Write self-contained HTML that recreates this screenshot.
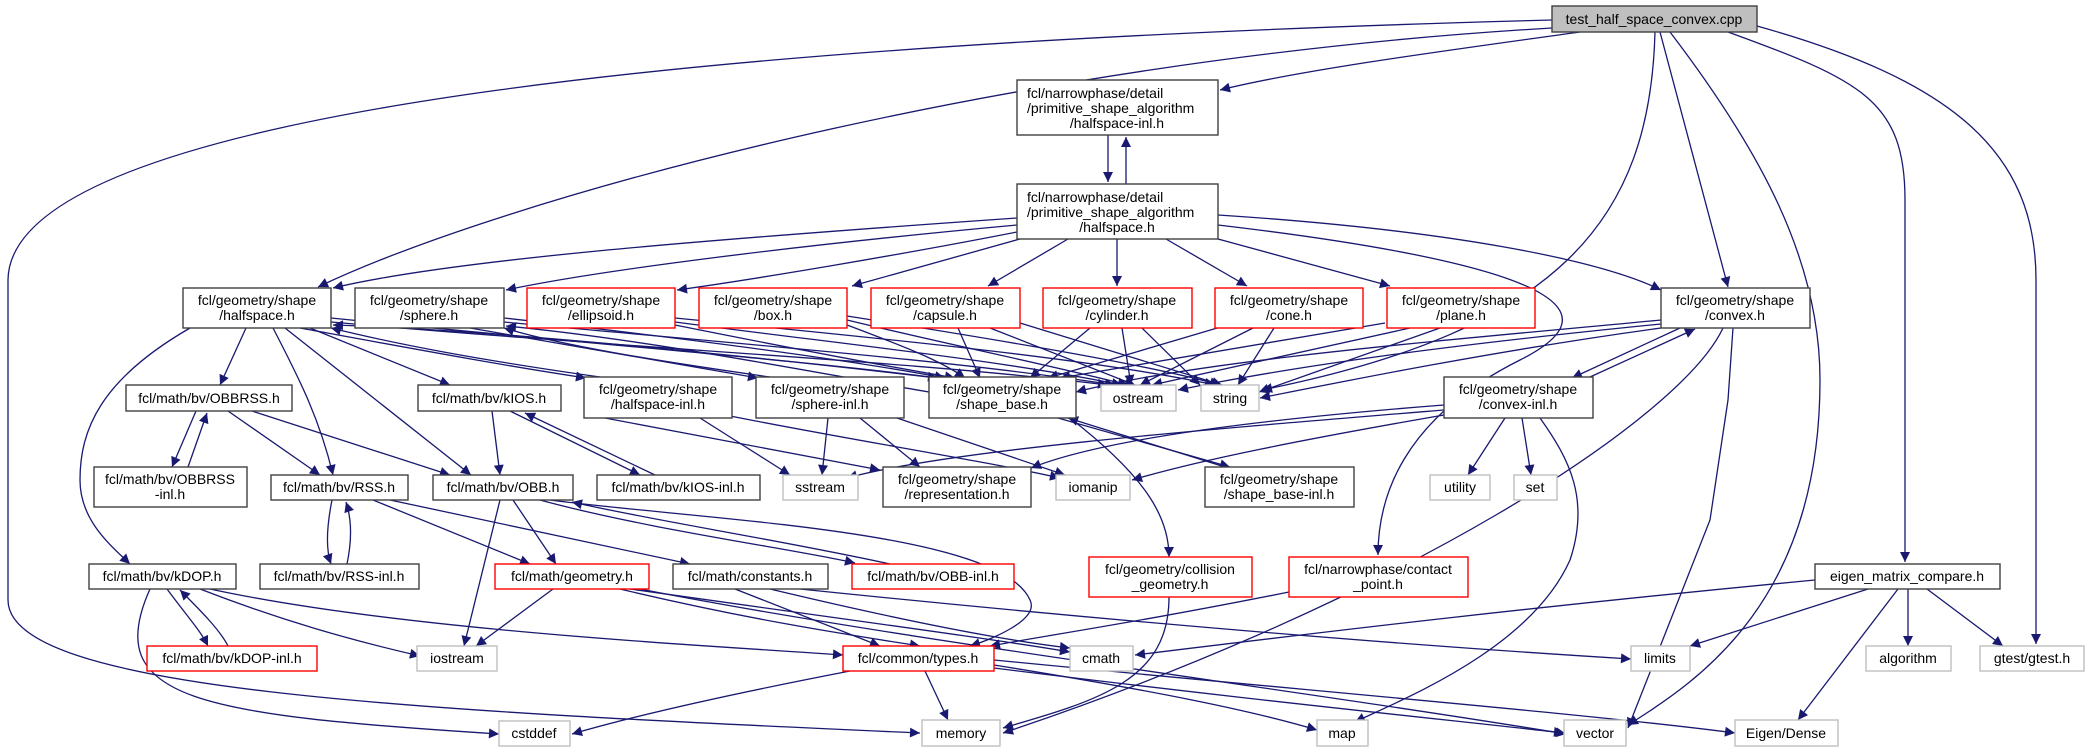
<!DOCTYPE html>
<html><head><meta charset="utf-8"><style>
html,body{margin:0;padding:0;background:#fff;}
svg{display:block;}
text{font-family:"Liberation Sans",Arial,sans-serif;font-size:14px;fill:#000;}
.n{fill:#fff;stroke:#404040;stroke-width:1.4;}
.r{fill:#fff;stroke:#ff0000;stroke-width:1.4;}
.g{fill:#fff;stroke:#bfbfbf;stroke-width:1.4;}
.e{fill:none;stroke:#191970;stroke-width:1.3;marker-end:url(#a);}
</style></head><body>
<svg width="2089" height="752" viewBox="0 0 2089 752" xmlns="http://www.w3.org/2000/svg">
<defs><marker id="a" viewBox="0 0 10 10" refX="10" refY="5" markerWidth="11" markerHeight="10" markerUnits="userSpaceOnUse" orient="auto"><path d="M0,0 L10,5 L0,10 z" fill="#191970"/></marker></defs>

<!-- edges from top -->
<path class="e" d="M1552,20 C800,40 10,100 8,280 L8,600 C8,690 400,710 920,733"/>
<path class="e" d="M1552,28 C1000,60 500,200 318,287"/>
<path class="e" d="M1580,32 C1450,50 1300,70 1220,90"/>
<path class="e" d="M1655,32 C1650,220 1560,330 1262,390"/>
<path class="e" d="M1660,32 L1728,287"/>
<path class="e" d="M1670,32 C1760,150 1820,260 1820,380 C1820,600 1700,680 1628,725"/>
<path class="e" d="M1728,32 C1860,80 1905,100 1905,200 L1905,562"/>
<path class="e" d="M1757,26 C1950,80 2036,150 2036,280 L2036,644"/>
<path class="e" d="M1108,135 L1108,182"/>
<path class="e" d="M1126,184 L1126,137"/>

<!-- narrow halfspace.h -->
<path class="e" d="M1017,218 C700,240 450,260 333,288"/>
<path class="e" d="M1017,225 C800,245 600,270 506,290"/>
<path class="e" d="M1017,232 C900,255 750,280 677,290"/>
<path class="e" d="M1020,239 L852,286"/>
<path class="e" d="M1068,239 L988,286"/>
<path class="e" d="M1117,239 L1117,286"/>
<path class="e" d="M1166,239 L1247,286"/>
<path class="e" d="M1218,239 L1390,286"/>
<path class="e" d="M1218,215 C1450,230 1600,260 1661,290"/>
<path class="e" d="M1218,225 C1600,270 1600,320 1520,360 C1400,420 1378,500 1378,555"/>

<!-- row1 to shape_base/ostream/string -->
<path class="e" d="M331,318 C600,345 800,360 938,378"/>
<path class="e" d="M331,322 C650,350 900,360 1108,385"/>
<path class="e" d="M1076,395 C800,360 500,330 333,325"/>
<path class="e" d="M504,318 C700,340 850,360 945,378"/>
<path class="e" d="M504,322 C750,345 950,360 1115,385"/>
<path class="e" d="M929,392 C800,370 650,340 506,326"/>
<path class="e" d="M675,325 C800,350 880,365 955,378"/>
<path class="e" d="M675,322 C850,345 1000,360 1122,385"/>
<path class="e" d="M675,318 C900,340 1100,360 1215,385"/>
<path class="e" d="M847,325 C900,345 940,360 965,378"/>
<path class="e" d="M847,320 C950,345 1050,365 1128,385"/>
<path class="e" d="M847,316 C1000,340 1150,365 1220,385"/>
<path class="e" d="M958,328 L980,378"/>
<path class="e" d="M990,328 L1135,385"/>
<path class="e" d="M1020,323 L1222,385"/>
<path class="e" d="M1090,328 L1030,378"/>
<path class="e" d="M1122,328 L1131,385"/>
<path class="e" d="M1142,328 L1200,385"/>
<path class="e" d="M1224,326 L1048,378"/>
<path class="e" d="M1253,328 L1140,385"/>
<path class="e" d="M1274,328 L1238,385"/>
<path class="e" d="M1385,323 L1060,378"/>
<path class="e" d="M1410,328 L1152,385"/>
<path class="e" d="M1440,328 L1259,392"/>
<path class="e" d="M1661,320 C1450,340 1200,360 1076,392"/>
<path class="e" d="M1661,324 C1450,345 1300,365 1178,390"/>
<path class="e" d="M1661,328 C1500,350 1350,380 1260,398"/>
<path class="e" d="M1680,328 L1572,378"/>
<path class="e" d="M1590,377 L1695,329"/>
<path class="e" d="M1723,328 C1680,420 1400,600 1003,733"/>
<path class="e" d="M1733,328 L1728,400 L1710,520 L1628,728"/>

<!-- halfspace/sphere inl -->
<path class="e" d="M300,328 C420,350 500,365 586,378"/>
<path class="e" d="M600,377 C480,360 400,345 331,328"/>
<path class="e" d="M470,328 C600,350 680,365 758,378"/>
<path class="e" d="M770,377 C650,360 560,345 504,328"/>

<!-- geo halfspace.h down -->
<path class="e" d="M246,328 L220,385"/>
<path class="e" d="M273,328 C300,380 320,420 333,475"/>
<path class="e" d="M285,328 L471,475"/>
<path class="e" d="M310,328 L450,385"/>
<path class="e" d="M190,328 C100,380 80,430 80,480 C80,520 110,545 130,564"/>

<!-- inl nodes -->
<path class="e" d="M700,418 L790,475"/>
<path class="e" d="M605,418 L880,470"/>
<path class="e" d="M720,414 C850,440 980,460 1060,478"/>
<path class="e" d="M828,418 L822,475"/>
<path class="e" d="M860,418 L920,467"/>
<path class="e" d="M897,418 L1065,475"/>
<path class="e" d="M1444,410 C1200,430 950,450 847,478"/>
<path class="e" d="M1444,405 C1250,420 1100,440 1031,468"/>
<path class="e" d="M1444,415 C1300,440 1200,460 1132,480"/>
<path class="e" d="M1505,418 L1468,475"/>
<path class="e" d="M1522,418 L1531,475"/>
<path class="e" d="M1540,418 C1570,460 1590,500 1570,560 C1530,650 1400,700 1355,722"/>

<!-- shape_base -->
<path class="e" d="M1058,418 L1230,467"/>
<path class="e" d="M1225,467 L1068,418"/>
<path class="e" d="M1070,418 C1150,480 1169,520 1169,557"/>
<path class="e" d="M1169,597 C1169,680 1100,700 1003,728"/>
<path class="e" d="M1289,592 C1150,620 1050,635 990,646"/>

<!-- bv -->
<path class="e" d="M196,411 L172,467"/>
<path class="e" d="M188,467 L207,413"/>
<path class="e" d="M228,411 L320,475"/>
<path class="e" d="M252,411 L450,475"/>
<path class="e" d="M492,411 L500,475"/>
<path class="e" d="M510,411 L640,475"/>
<path class="e" d="M655,475 L525,413"/>
<path class="e" d="M332,500 C326,530 326,550 331,564"/>
<path class="e" d="M347,564 C352,540 352,520 346,502"/>
<path class="e" d="M373,500 L530,564"/>
<path class="e" d="M390,500 L690,564"/>
<path class="e" d="M500,500 L464,646"/>
<path class="e" d="M513,500 L556,564"/>
<path class="e" d="M540,500 C650,530 800,550 855,563"/>
<path class="e" d="M890,564 C780,540 650,520 572,502"/>
<path class="e" d="M550,500 C700,520 1000,530 1030,600 C1040,620 990,640 970,646"/>
<path class="e" d="M167,589 C190,620 200,630 208,646"/>
<path class="e" d="M228,646 C220,630 200,610 180,590"/>
<path class="e" d="M200,589 C280,620 350,640 420,656"/>
<path class="e" d="M210,589 C400,630 700,645 843,655"/>
<path class="e" d="M150,589 C100,700 200,715 499,734"/>
<path class="e" d="M553,589 L476,646"/>
<path class="e" d="M620,589 C750,620 850,635 920,646"/>
<path class="e" d="M630,589 C850,620 1000,640 1070,652"/>
<path class="e" d="M640,589 C900,640 1300,690 1566,734"/>
<path class="e" d="M735,589 L880,646"/>
<path class="e" d="M770,589 C900,620 1000,640 1070,648"/>
<path class="e" d="M800,589 C1100,620 1400,645 1631,659"/>
<path class="e" d="M925,671 L948,720"/>
<path class="e" d="M850,671 C700,700 620,720 572,734"/>
<path class="e" d="M994,665 C1150,690 1250,710 1317,730"/>
<path class="e" d="M994,668 C1250,700 1450,720 1564,733"/>
<path class="e" d="M994,660 C1300,690 1600,715 1735,733"/>
<path class="e" d="M1815,580 C1500,610 1300,635 1135,655"/>
<path class="e" d="M1868,589 L1690,646"/>
<path class="e" d="M1908,589 L1908,646"/>
<path class="e" d="M1927,589 L2003,646"/>
<path class="e" d="M1898,589 L1798,720"/>

<!-- nodes -->
<rect x="1552" y="6" width="205" height="26" fill="#bfbfbf" stroke="#404040" stroke-width="1.4"/>
<text x="1654" y="24" text-anchor="middle">test_half_space_convex.cpp</text>

<rect class="n" x="1017" y="80" width="201" height="55"/>
<text x="1027" y="98">fcl/narrowphase/detail</text><text x="1027" y="113">/primitive_shape_algorithm</text><text x="1117" y="128" text-anchor="middle">/halfspace-inl.h</text>
<rect class="n" x="1017" y="184" width="201" height="55"/>
<text x="1027" y="202">fcl/narrowphase/detail</text><text x="1027" y="217">/primitive_shape_algorithm</text><text x="1117" y="232" text-anchor="middle">/halfspace.h</text>

<g text-anchor="middle">
<rect class="n" x="183" y="288" width="148" height="40"/><text x="257" y="305">fcl/geometry/shape</text><text x="257" y="320">/halfspace.h</text>
<rect class="n" x="355" y="288" width="149" height="40"/><text x="429" y="305">fcl/geometry/shape</text><text x="429" y="320">/sphere.h</text>
<rect class="r" x="527" y="288" width="148" height="40"/><text x="601" y="305">fcl/geometry/shape</text><text x="601" y="320">/ellipsoid.h</text>
<rect class="r" x="699" y="288" width="148" height="40"/><text x="773" y="305">fcl/geometry/shape</text><text x="773" y="320">/box.h</text>
<rect class="r" x="871" y="288" width="149" height="40"/><text x="945" y="305">fcl/geometry/shape</text><text x="945" y="320">/capsule.h</text>
<rect class="r" x="1043" y="288" width="149" height="40"/><text x="1117" y="305">fcl/geometry/shape</text><text x="1117" y="320">/cylinder.h</text>
<rect class="r" x="1215" y="288" width="148" height="40"/><text x="1289" y="305">fcl/geometry/shape</text><text x="1289" y="320">/cone.h</text>
<rect class="r" x="1387" y="288" width="148" height="40"/><text x="1461" y="305">fcl/geometry/shape</text><text x="1461" y="320">/plane.h</text>
<rect class="n" x="1661" y="288" width="149" height="40"/><text x="1735" y="305">fcl/geometry/shape</text><text x="1735" y="320">/convex.h</text>

<rect class="n" x="126" y="385" width="166" height="26"/><text x="209" y="403">fcl/math/bv/OBBRSS.h</text>
<rect class="n" x="418" y="385" width="143" height="26"/><text x="489" y="403">fcl/math/bv/kIOS.h</text>
<rect class="n" x="584" y="377" width="148" height="41"/><text x="658" y="394">fcl/geometry/shape</text><text x="658" y="409">/halfspace-inl.h</text>
<rect class="n" x="756" y="377" width="148" height="41"/><text x="830" y="394">fcl/geometry/shape</text><text x="830" y="409">/sphere-inl.h</text>
<rect class="n" x="929" y="377" width="147" height="41"/><text x="1002" y="394">fcl/geometry/shape</text><text x="1002" y="409">/shape_base.h</text>
<rect class="g" x="1101" y="385" width="75" height="26"/><text x="1138" y="403">ostream</text>
<rect class="g" x="1201" y="385" width="58" height="26"/><text x="1230" y="403">string</text>
<rect class="n" x="1444" y="377" width="149" height="41"/><text x="1518" y="394">fcl/geometry/shape</text><text x="1518" y="409">/convex-inl.h</text>

<rect class="n" x="94" y="467" width="153" height="40"/><text x="170" y="484">fcl/math/bv/OBBRSS</text><text x="170" y="499">-inl.h</text>
<rect class="n" x="271" y="475" width="137" height="25"/><text x="339" y="492">fcl/math/bv/RSS.h</text>
<rect class="n" x="433" y="475" width="140" height="25"/><text x="503" y="492">fcl/math/bv/OBB.h</text>
<rect class="n" x="597" y="475" width="163" height="25"/><text x="678" y="492">fcl/math/bv/kIOS-inl.h</text>
<rect class="g" x="783" y="475" width="75" height="25"/><text x="820" y="492">sstream</text>
<rect class="n" x="883" y="467" width="148" height="40"/><text x="957" y="484">fcl/geometry/shape</text><text x="957" y="499">/representation.h</text>
<rect class="g" x="1056" y="475" width="74" height="25"/><text x="1093" y="492">iomanip</text>
<rect class="n" x="1205" y="467" width="149" height="40"/><text x="1279" y="484">fcl/geometry/shape</text><text x="1279" y="499">/shape_base-inl.h</text>
<rect class="g" x="1430" y="475" width="60" height="25"/><text x="1460" y="492">utility</text>
<rect class="g" x="1514" y="475" width="43" height="25"/><text x="1535" y="492">set</text>

<rect class="n" x="89" y="564" width="147" height="25"/><text x="162" y="581">fcl/math/bv/kDOP.h</text>
<rect class="n" x="260" y="564" width="159" height="25"/><text x="339" y="581">fcl/math/bv/RSS-inl.h</text>
<rect class="r" x="495" y="564" width="154" height="25"/><text x="572" y="581">fcl/math/geometry.h</text>
<rect class="n" x="673" y="564" width="155" height="25"/><text x="750" y="581">fcl/math/constants.h</text>
<rect class="r" x="852" y="564" width="162" height="25"/><text x="933" y="581">fcl/math/bv/OBB-inl.h</text>
<rect class="r" x="1089" y="557" width="163" height="40"/><text x="1170" y="574">fcl/geometry/collision</text><text x="1170" y="589">_geometry.h</text>
<rect class="r" x="1289" y="557" width="179" height="40"/><text x="1378" y="574">fcl/narrowphase/contact</text><text x="1378" y="589">_point.h</text>
<rect class="n" x="1815" y="564" width="185" height="25"/><text x="1907" y="581">eigen_matrix_compare.h</text>

<rect class="r" x="147" y="646" width="170" height="25"/><text x="232" y="663">fcl/math/bv/kDOP-inl.h</text>
<rect class="g" x="417" y="646" width="80" height="25"/><text x="457" y="663">iostream</text>
<rect class="r" x="843" y="646" width="151" height="25"/><text x="918" y="663">fcl/common/types.h</text>
<rect class="g" x="1070" y="646" width="63" height="25"/><text x="1101" y="663">cmath</text>
<rect class="g" x="1631" y="646" width="59" height="25"/><text x="1660" y="663">limits</text>
<rect class="g" x="1866" y="646" width="85" height="25"/><text x="1908" y="663">algorithm</text>
<rect class="g" x="1980" y="646" width="104" height="25"/><text x="2032" y="663">gtest/gtest.h</text>

<rect class="g" x="499" y="721" width="71" height="25"/><text x="534" y="738">cstddef</text>
<rect class="g" x="922" y="720" width="78" height="26"/><text x="961" y="738">memory</text>
<rect class="g" x="1317" y="720" width="51" height="26"/><text x="1342" y="738">map</text>
<rect class="g" x="1564" y="720" width="62" height="26"/><text x="1595" y="738">vector</text>
<rect class="g" x="1735" y="720" width="103" height="26"/><text x="1786" y="738">Eigen/Dense</text>
</g>
</svg>
</body></html>
